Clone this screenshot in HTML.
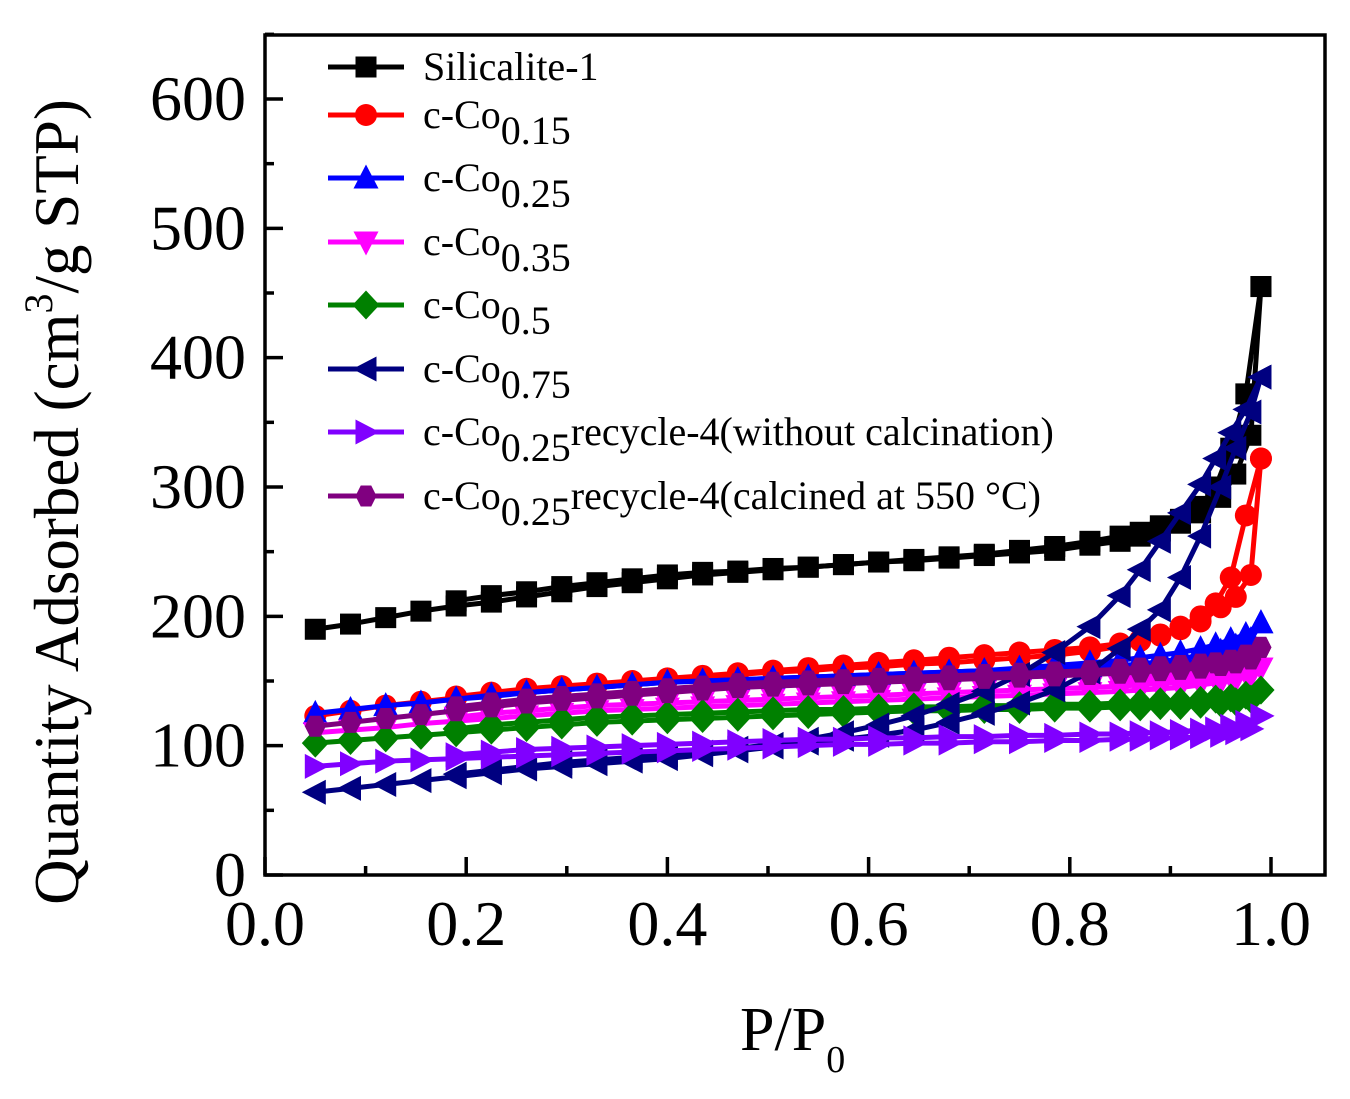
<!DOCTYPE html>
<html><head><meta charset="utf-8"><style>
html,body{margin:0;padding:0;background:#fff;}
svg{display:block;font-family:"Liberation Serif","DejaVu Serif",serif;}
</style></head><body>
<svg id="chart" width="1350" height="1099" viewBox="0 0 1350 1099" xmlns="http://www.w3.org/2000/svg">
<g id="plot"></g>
<g id="axes"></g>
<g id="legend"></g>
<text x="78" y="502" transform="rotate(-90 78 502)" text-anchor="middle" font-size="63">Quantity Adsorbed (cm<tspan dy="-26" font-size="40">3</tspan><tspan dy="26">/g STP)</tspan></text>
<text x="740" y="1050" font-size="62">P/P<tspan dy="22" font-size="38">0</tspan></text>
</svg>
<script>
const xTicks=[0.0,0.2,0.4,0.6,0.8,1.0];
const xTickLabels=["0.0","0.2","0.4","0.6","0.8","1.0"];
const yTicks=[0,100,200,300,400,500,600];
const yTickLabels=["0","100","200","300","400","500","600"];
const xAds=[0.05,0.085,0.12,0.155,0.19,0.225,0.26,0.295,0.33,0.365,0.40,0.435,0.47,0.505,0.54,0.575,0.61,0.645,0.68,0.715,0.75,0.785,0.82,0.85,0.87,0.89,0.91,0.93,0.95,0.965,0.98,0.99];
const xDes=[0.99,0.975,0.96,0.945,0.93,0.91,0.89,0.87,0.85,0.82,0.785,0.75,0.715,0.68,0.645,0.61,0.575,0.54,0.505,0.47,0.435,0.40,0.365,0.33,0.295,0.26,0.225,0.19];
const seriesNames=["Silicalite-1","c-Co0.15","c-Co0.25","c-Co0.35","c-Co0.5","c-Co0.75","c-Co0.25 recycle-4 (without calcination)","c-Co0.25 recycle-4 (calcined at 550 °C)"];
const silAds=[190,194,199,204,208,211,215,219,223,226,229,232,234,236,238,240,242,243,245,247,249,251,255,258,262,266,272,280,292,310,340,455];
const silDes=[455,372,330,300,285,275,270,265,262,258,254,251,248,246,244,242,240,238,237,235,234,232,229,226,223,219,216,212];
const co15Ads=[123,127,131,134,137,140,143,145,147,149,151,153,155,157,158,160,161,163,164,166,168,170,173,177,181,185,190,196,207,215,232,322];
const co15Des=[322,278,230,210,200,192,186,182,179,176,174,172,170,168,166,164,162,160,158,156,154,152,150,148,146,144,141,138];
const co25Ads=[125,128,131,133,136,138,141,143,145,147,149,150,151,152,153,154,155,156,157,158,159,160,161,162,163,165,167,170,173,177,182,195];
const co25Des=[195,186,182,178,175,172,170,168,166,164,162,160,158,157,156,155,154,153,152,151,150,149,147,145,143,141,139,136];
const co35Ads=[110,112,114,117,119,121,123,125,127,128,129,130,131,132,133,134,135,136,137,138,139,140,141,142,143,144,145,147,149,151,154,160];
const co35Des=[160,156,153,151,150,149,148,147,146,145,144,143,142,141,140,139,138,137,136,135,134,133,132,131,129,127,125,122];
const co50Ads=[102,104,106,108,110,112,114,116,118,119,120,121,122,123,124,125,126,127,127,128,128,129,129,130,130,131,131,132,133,134,136,143];
const co50Des=[143,139,137,136,135,134,134,133,133,132,132,131,131,130,130,129,128,128,127,126,125,124,123,122,120,118,116,113];
const co75Ads=[64,67,70,73,76,79,82,84,86,88,90,93,96,99,102,105,108,112,118,125,133,143,157,175,190,205,230,262,300,330,358,385];
const co75Des=[385,360,342,322,302,280,258,236,216,192,172,155,142,132,123,116,110,105,101,98,95,93,91,89,87,84,81,78];
const recAds=[84,86,88,89,90,91,92,93,94,95,96,97,98,99,100,101,101,102,102,103,103,104,104,105,105,106,106,107,108,110,113,123];
const recDes=[123,118,115,113,112,111,110,110,109,109,108,108,107,107,106,106,105,105,104,103,102,101,100,99,98,97,95,93];
const calAds=[115,118,121,124,127,130,133,135,137,139,141,143,145,146,147,148,149,150,151,152,153,154,155,156,157,158,159,160,162,164,167,176];
const calDes=[176,170,166,164,163,162,161,160,159,158,157,156,155,154,153,152,151,150,149,148,146,144,142,140,138,136,133,130];

const NS="http://www.w3.org/2000/svg";
const L=265,R=1325,T=35,B=875;
const X0=265,X1=1271;
const sx=v=>X0+(X1-X0)*v;
const sy=v=>B-(B-99)*v/600;
function mk(tag,attrs,parent){const e=document.createElementNS(NS,tag);for(const k in attrs)e.setAttribute(k,attrs[k]);parent.appendChild(e);return e;}

const series=[
 {ads:silAds,des:silDes,color:"#000000",m:"square",key:"silicalite-1"},
 {ads:co15Ads,des:co15Des,color:"#ff0000",m:"circle",key:"c-co-0-15"},
 {ads:co25Ads,des:co25Des,color:"#0000ff",m:"up",key:"c-co-0-25"},
 {ads:co35Ads,des:co35Des,color:"#ff00ff",m:"down",key:"c-co-0-35"},
 {ads:co50Ads,des:co50Des,color:"#008000",m:"diamond",key:"c-co-0-5"},
 {ads:co75Ads,des:co75Des,color:"#000080",m:"left",key:"c-co-0-75"},
 {ads:recAds,des:recDes,color:"#8000ff",m:"right",key:"recycle-uncalcined"},
 {ads:calAds,des:calDes,color:"#800080",m:"hexagon",key:"recycle-calcined"}
];
function marker(type,x,y,c,parent){
  const s=10.5;let e;
  if(type==="square")e=mk("rect",{x:x-s,y:y-s,width:2*s,height:2*s,fill:c},parent);
  else if(type==="circle")e=mk("circle",{cx:x,cy:y,r:s+0.5,fill:c},parent);
  else{
    let p;
    if(type==="up")p=[[x,y-s-3],[x+s+2,y+s],[x-s-2,y+s]];
    else if(type==="down")p=[[x,y+s+3],[x+s+2,y-s],[x-s-2,y-s]];
    else if(type==="left")p=[[x-s-3,y],[x+s,y-s-2],[x+s,y+s+2]];
    else if(type==="right")p=[[x+s+3,y],[x-s,y-s-2],[x-s,y+s+2]];
    else if(type==="diamond")p=[[x,y-s-4],[x+s+3,y],[x,y+s+4],[x-s-3,y]];
    else p=[[x-s/2,y-s],[x+s/2,y-s],[x+s,y],[x+s/2,y+s],[x-s/2,y+s],[x-s,y]];
    e=mk("polygon",{points:p.map(q=>q.join(",")).join(" "),fill:c},parent);
  }
  return e;
}
const plot=document.getElementById("plot");
series.forEach(s=>{
  const g=mk("g",{},plot);
  
  
  const pts=xAds.map((x,i)=>[sx(x),sy(s.ads[i])]);
  const dpts=xDes.map((x,i)=>[sx(x),sy(s.des[i])]);
  const la=mk("polyline",{points:pts.map(p=>p.join(",")).join(" "),fill:"none",stroke:s.color,"stroke-width":5,"stroke-linejoin":"round"},g);
  
  
  const ld=mk("polyline",{points:dpts.map(p=>p.join(",")).join(" "),fill:"none",stroke:s.color,"stroke-width":5,"stroke-linejoin":"round"},g);
  
  
  pts.concat(dpts).forEach(p=>{
    const m=marker(s.m,p[0],p[1],s.color,g);
    
    
  });
});

const axes=document.getElementById("axes");
const frame=mk("rect",{x:L,y:T,width:R-L,height:B-T,fill:"none",stroke:"#000","stroke-width":3.5},axes);


for(let v=0;v<=650;v+=50){
  const len=v%100===0?18:9;
  const t=mk("line",{x1:L,x2:L+len,y1:sy(v),y2:sy(v),stroke:"#000","stroke-width":3.5},axes);
  
  
}
for(let i=0;i<=10;i++){
  const v=i/10;const len=i%2===0?18:9;
  const t=mk("line",{x1:sx(v),x2:sx(v),y1:B,y2:B-len,stroke:"#000","stroke-width":3.5},axes);
  
  
}
yTicks.forEach((v,i)=>{
  const t=mk("text",{x:246,y:sy(v)+21,"text-anchor":"end","font-size":64},axes);
  t.textContent=yTickLabels[i];
  
  
});
xTicks.forEach((v,i)=>{
  const t=mk("text",{x:sx(v),y:945,"text-anchor":"middle","font-size":64},axes);
  t.textContent=xTickLabels[i];
  
  
});

const legend=document.getElementById("legend");
const rows=[67,115,178,242,305,369,432,496];
const labels=[
 ["Silicalite-1"],["c-Co","0.15"],["c-Co","0.25"],["c-Co","0.35"],["c-Co","0.5"],["c-Co","0.75"],
 ["c-Co","0.25","recycle-4(without calcination)"],["c-Co","0.25","recycle-4(calcined at 550 °C)"]];
series.forEach((s,i)=>{
  const g=mk("g",{},legend);
  
  
  const y=rows[i];
  mk("line",{x1:328,x2:404,y1:y,y2:y,stroke:s.color,"stroke-width":5},g);
  marker(s.m,366,y,s.color,g);
  const t=mk("text",{x:423,y:y+13,"font-size":40},g);
  const lb=labels[i];
  const a=document.createElementNS(NS,"tspan");a.textContent=lb[0];t.appendChild(a);
  if(lb[1]){const b=document.createElementNS(NS,"tspan");b.setAttribute("dy","16");b.textContent=lb[1];t.appendChild(b);}
  if(lb[2]){const c=document.createElementNS(NS,"tspan");c.setAttribute("dy","-16");c.textContent=lb[2];t.appendChild(c);}
});
</script>
</body></html>
